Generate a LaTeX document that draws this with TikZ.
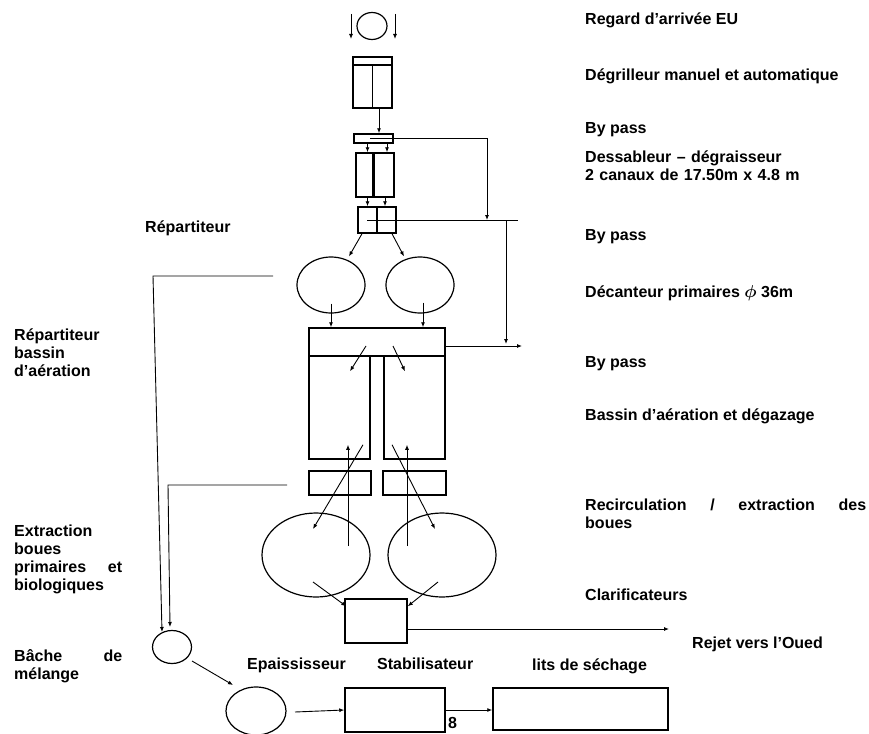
\documentclass[tikz,border=0pt]{standalone}
\usepackage{fontspec}
\setmainfont{Liberation Sans}
\usetikzlibrary{arrows.meta,shapes.geometric}

\begin{document}
\begin{tikzpicture}[
  x=1pt, y=-1pt,
  unit/.style={draw, rectangle, line width=1.5pt, inner sep=0pt},
  tank/.style={draw, ellipse, line width=1.2pt, inner sep=0pt},
  pipe/.style={line width=0.9pt},
  arr/.style={-{Latex[length=5pt,width=4pt]}, line width=0.9pt},
  lbl/.style={anchor=base west, inner sep=0pt, align=left,
    font=\fontsize{16}{18}\selectfont\bfseries}
]
\useasboundingbox (0,0) rectangle (869,733);

% file eau
\node[tank, minimum width=30pt, minimum height=27pt] (regard) at (372,26) {};
\node[unit, minimum width=39pt, minimum height=51pt] (degr) at (372.5,82.5) {};
\node[unit, minimum width=39pt, minimum height=9pt] (bp1) at (373.5,138.5) {};
\node[unit, minimum width=17pt, minimum height=44pt] (dess1) at (364.5,175) {};
\node[unit, minimum width=20pt, minimum height=44pt] (dess2) at (384,175) {};
\node[unit, minimum width=38pt, minimum height=26pt] (rep) at (377,220) {};
\node[tank, minimum width=68pt, minimum height=56pt] (dec1) at (331,285) {};
\node[tank, minimum width=68pt, minimum height=56pt] (dec2) at (420,285) {};
\node[unit, minimum width=136pt, minimum height=28pt] (bas) at (377,342) {};
\node[unit, minimum width=61pt, minimum height=103pt] (tank1) at (339.5,407.5) {};
\node[unit, minimum width=61pt, minimum height=103pt] (tank2) at (414.5,407.5) {};
\node[unit, minimum width=62pt, minimum height=24pt] (rec1) at (340,483) {};
\node[unit, minimum width=63pt, minimum height=24pt] (rec2) at (414.5,483) {};
\node[tank, minimum width=108pt, minimum height=84pt] (clar1) at (316,555) {};
\node[tank, minimum width=108pt, minimum height=84pt] (clar2) at (442,555) {};
\node[unit, minimum width=62pt, minimum height=44pt] (out) at (376,621) {};

% file boues
\node[tank, minimum width=39pt, minimum height=33pt] (bache) at (172,647) {};
\node[tank, minimum width=60pt, minimum height=48pt] (epai) at (256,711) {};
\node[unit, minimum width=100pt, minimum height=44pt] (stab) at (395,710) {};
\node[unit, minimum width=175pt, minimum height=42pt] (lits) at (580.5,709) {};

% details
\draw[line width=1.5pt] ([shift={(0,9)}]degr.north west) -- ([shift={(0,9)}]degr.north east);
\draw[line width=1.5pt] ([shift={(0,9)}]degr.north) -- (degr.south);
\draw[line width=1.5pt] (rep.north) -- (rep.south);

\coordinate (inl-a) at (351,14);
\coordinate (inl-b) at (351,39);
\coordinate (inr-a) at (395,14);
\coordinate (inr-b) at (395,39);
\coordinate (bp-turn) at (487,138.5);
\coordinate (bp-join) at (487,220);
\coordinate (bp-end) at (518,220);
\coordinate (bp2-top) at (506,220);
\coordinate (bp2-low) at (506,344);
\coordinate (bp3-end) at (522,346);
\coordinate (oued) at (669,629);
\coordinate (ext1-a) at (273,276);
\coordinate (ext1-b) at (153,276);
\coordinate (ext2-a) at (287,485);
\coordinate (ext2-b) at (168,485);

\draw[arr] (inl-a) -- (inl-b);
\draw[arr] (inr-a) -- (inr-b);
\draw[arr] ([xshift=6.5pt]degr.south) -- ([xshift=5.5pt]bp1.north);
\draw[arr] ([xshift=-3.5pt]bp1.center) -- (bp-turn) -- (bp-join);
\draw[pipe] ([xshift=-10pt]rep.center) -- (bp-end);
\draw[arr] (bp2-top) -- (bp2-low);
\draw[arr] ([xshift=3pt]bp1.south -| dess1.north) -- ([xshift=3pt]dess1.north);
\draw[arr] ([xshift=3pt]bp1.south -| dess2.north) -- ([xshift=3pt]dess2.north);
\draw[arr] ([xshift=3pt]dess1.south) -- ([xshift=3pt]rep.north -| dess1.south);
\draw[arr] ([xshift=1pt]dess2.south) -- ([xshift=1pt]rep.north -| dess2.south);
\draw[arr] ([xshift=-15pt]rep.south) -- ([xshift=18pt]dec1.north);
\draw[arr] ([xshift=15pt]rep.south) -- ([xshift=-16pt]dec2.north);
\draw[arr] ([shift={(0,-10)}]dec1.south) -- (bas.north -| dec1.south);
\draw[arr] ([shift={(3,-11)}]dec2.south) -- ([xshift=3pt]bas.north -| dec2.south);
\draw[arr] ([shift={(0,4)}]bas.east) -- (bp3-end);
\draw[arr] ([shift={(-11,4)}]bas.center) -- ([shift={(10.5,16)}]tank1.north);
\draw[arr] ([shift={(16,4)}]bas.center) -- ([shift={(-9.5,16)}]tank2.north);
\draw[arr] ([shift={(32,-9)}]clar1.center) -- ([shift={(8.5,-15)}]tank1.south);
\draw[arr] ([shift={(-35,-9)}]clar2.center) -- ([shift={(-7.5,-15)}]tank2.south);
\draw[arr] ([shift={(23.5,-15)}]tank1.south) -- ([shift={(-3,-26)}]clar1.center);
\draw[arr] ([shift={(-22.5,-15)}]tank2.south) -- ([shift={(-7,-26)}]clar2.center);
\draw[arr] ([shift={(-3,27)}]clar1.center) -- ([shift={(2,8)}]out.north west);
\draw[arr] ([shift={(-4,27)}]clar2.center) -- ([shift={(0,8)}]out.north east);
\draw[arr] ([shift={(0,8)}]out.east) -- (oued);
\draw[arr] (ext1-a) -- (ext1-b) -- ([shift={(-10,-15)}]bache.center);
\draw[arr] (ext2-a) -- (ext2-b) -- ([shift={(-2,-20)}]bache.center);
\draw[arr] ([shift={(20,14)}]bache.center) -- ([shift={(-23,-26)}]epai.center);
\draw[arr] ([shift={(39,1)}]epai.center) -- (stab.west);
\draw[arr] (stab.east) -- (stab.east -| lits.west);

% textes
\node[lbl] (t-regard) at (585,25) {Regard d’arrivée EU};
\node[lbl] (t-degr) at (585,81) {Dégrilleur manuel et automatique};
\node[lbl] (t-bp1) at (585,133) {By pass};
\node[lbl, text width=260pt] (t-dess) at (585,162) {Dessableur -- dégraisseur\\2 canaux de 17.50m x 4.8 m};
\node[lbl] (t-bp2) at (585,240) {By pass};
\node[lbl] (t-dec) at (585,297) {Décanteur primaires {\boldmath$\phi$} 36m};
\node[lbl] (t-bp3) at (585,367) {By pass};
\node[lbl] (t-bas) at (585,420) {Bassin d’aération et dégazage};
\node[lbl, text width=281pt] (t-rec) at (585,510) {Recirculation\hfill/\hfill extraction\hfill des\\boues};
\node[lbl] (t-clar) at (585,600) {Clarificateurs};
\node[lbl] (t-oued) at (692,648) {Rejet vers l’Oued};
\node[lbl] (t-rep) at (145,232) {Répartiteur};
\node[lbl, text width=108pt] (t-repb) at (14,340) {Répartiteur\\bassin\\d’aération};
\node[lbl, text width=108pt] (t-ext) at (14,536) {Extraction\\boues\\primaires\hfill et\\biologiques};
\node[lbl, text width=108pt] (t-bache) at (14,661) {Bâche\hfill de\\mélange};
\node[lbl] (t-epai) at (247,669) {Epaississeur};
\node[lbl] (t-stab) at (377,669) {Stabilisateur};
\node[lbl] (t-lits) at (532,670) {lits de séchage};
\node[lbl] (t-page) at (448,728) {8};
\end{tikzpicture}
\end{document}
